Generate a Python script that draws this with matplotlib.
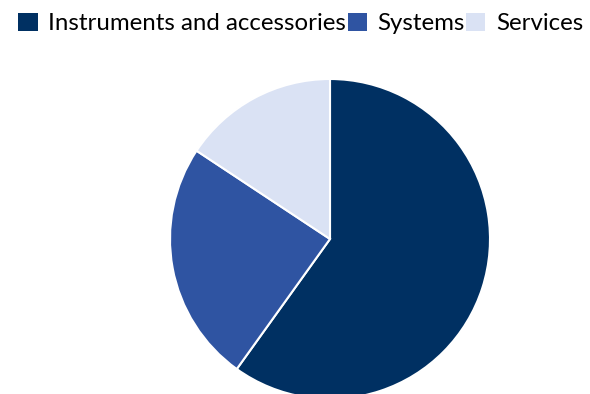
import matplotlib.pyplot as plt

segments = ['Instruments and accessories', 'Systems', 'Services']
shares = [59.9, 24.4, 15.7]
colors = ['#003062', '#2F54A2', '#DAE2F4']

plt.rcParams['font.family'] = ['Lato', 'DejaVu Sans']

fig = plt.figure(figsize=(5.9, 3.94), dpi=100)
ax = fig.add_axes([0, 0, 1, 1])

wedges, _ = ax.pie(shares, colors=colors, startangle=90, counterclock=False,
                   radius=160, center=(330, 155),
                   wedgeprops=dict(edgecolor='white', linewidth=1.5))
ax.set_xlim(0, 590)
ax.set_ylim(0, 394)
ax.set_aspect('equal')
ax.axis('off')

handles = [plt.Rectangle((0, 0), 1, 1, facecolor=c, edgecolor='none') for c in colors]
leg = fig.legend(handles, segments, loc='upper left', bbox_to_anchor=(0.015, 0.992),
                 ncol=3, frameon=False, fontsize=17.3, handlelength=0.8,
                 handleheight=0.8, handletextpad=0.45, columnspacing=0.05,
                 borderaxespad=0.0)

fig.savefig('out.png', dpi=100)
